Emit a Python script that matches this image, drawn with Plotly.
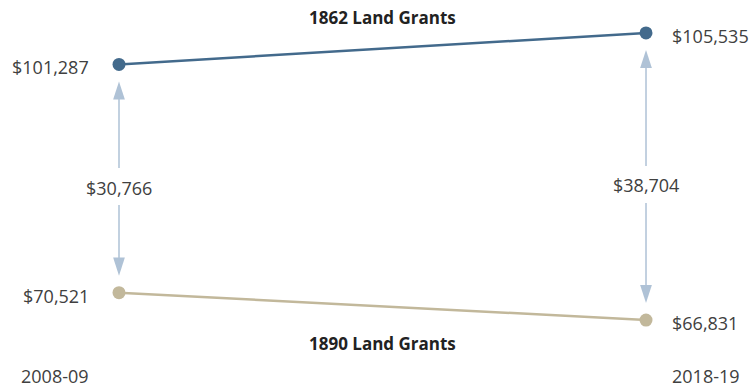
import plotly.graph_objects as go

years = ["2008-09", "2018-19"]
series_names = ["1862 Land Grants", "1890 Land Grants"]
grants_1862 = [101287, 105535]
grants_1890 = [70521, 66831]
gaps = [30766, 38704]

C1862 = "#436a8c"
C1890 = "#c2b89b"
CARROW = "#afc2d6"
CTEXT = "#404040"
FONT = "Open Sans"

xs = [0, 1]
fig = go.Figure()
fig.add_trace(go.Scatter(x=xs, y=grants_1862, mode="lines+markers",
                         line=dict(color=C1862, width=2.5),
                         marker=dict(color=C1862, size=13), hoverinfo="skip"))
fig.add_trace(go.Scatter(x=xs, y=grants_1890, mode="lines+markers",
                         line=dict(color=C1890, width=2.5),
                         marker=dict(color=C1890, size=13), hoverinfo="skip"))

# arrowheads pointing at the dots
fig.add_trace(go.Scatter(x=xs, y=grants_1862, mode="markers", hoverinfo="skip",
                         marker=dict(symbol="arrow", size=19, color=CARROW, angle=0,
                                     standoff=17, line=dict(width=0))))
fig.add_trace(go.Scatter(x=xs, y=grants_1890, mode="markers", hoverinfo="skip",
                         marker=dict(symbol="arrow", size=19, color=CARROW, angle=180,
                                     standoff=17, line=dict(width=0))))

ann = []
def fmt(v):
    return "${:,}".format(v)

for i, x in enumerate(xs):
    left = (i == 0)
    xanchor = "right" if left else "left"
    xshift = -28 if left else 24
    for v in (grants_1862[i], grants_1890[i]):
        ann.append(dict(x=x, y=v, text=fmt(v), showarrow=False, xanchor=xanchor,
                        xshift=xshift, yshift=-3, font=dict(size=18, color=CTEXT, family=FONT)))
    mid = (grants_1862[i] + grants_1890[i]) / 2
    ann.append(dict(x=x, y=mid, text=fmt(gaps[i]), showarrow=False, yshift=-9,
                    font=dict(size=18, color=CTEXT, family=FONT)))
    # arrow shafts
    ann.append(dict(x=x, y=grants_1862[i], ax=x, ay=mid, axref="x", ayref="y",
                    text="", showarrow=True, arrowhead=0, arrowwidth=1.5,
                    arrowcolor=CARROW, standoff=32, startstandoff=9))
    ann.append(dict(x=x, y=grants_1890[i], ax=x, ay=mid, axref="x", ayref="y",
                    text="", showarrow=True, arrowhead=0, arrowwidth=1.5,
                    arrowcolor=CARROW, standoff=32, startstandoff=25))
    ann.append(dict(x=x, y=0, yref="paper", text=years[i], showarrow=False,
                    xanchor=xanchor, xshift=xshift, yanchor="bottom", yshift=-1,
                    font=dict(size=18, color=CTEXT, family=FONT)))

ann.append(dict(x=0.5, y=max(grants_1862), text="<b>" + series_names[0] + "</b>",
                showarrow=False, yshift=15, font=dict(size=17, color="#222", family=FONT)))
ann.append(dict(x=0.5, y=min(grants_1890), text="<b>" + series_names[1] + "</b>",
                showarrow=False, yshift=-23, font=dict(size=17, color="#222", family=FONT)))

fig.update_layout(
    width=755, height=389,
    margin=dict(l=0, r=0, t=0, b=0),
    plot_bgcolor="white", paper_bgcolor="white",
    showlegend=False,
    xaxis=dict(range=[-0.2258, 1.2068], visible=False),
    yaxis=dict(range=[57535, 109968], visible=False),
    annotations=ann,
)
fig.write_html("out.html")
